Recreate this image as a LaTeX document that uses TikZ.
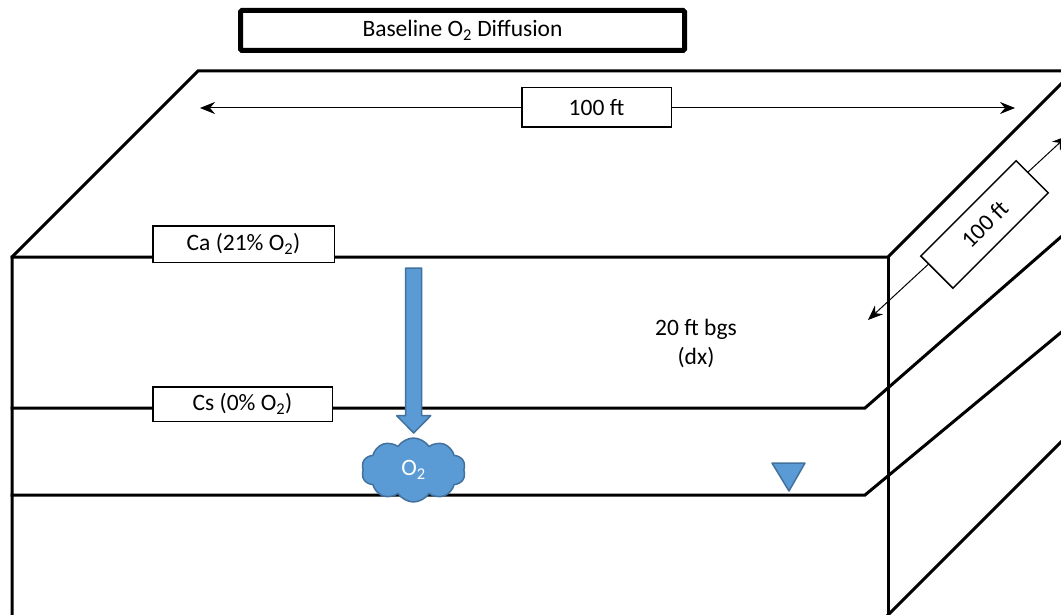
\documentclass[tikz,border=0pt]{standalone}
\usepackage{fontspec}
\setmainfont{Carlito}
\usetikzlibrary{arrows.meta,shapes.symbols}
\definecolor{fillblue}{HTML}{5B9BD5}
\definecolor{edgeblue}{HTML}{41719C}
\newcommand{\labelfont}{\fontsize{23.5}{29}\selectfont}
\begin{document}
\begin{tikzpicture}[x=1pt,y=-1pt,
  edge/.style={line width=3pt, line join=miter, line cap=rect},
  tagbox/.style={draw, line width=1.5pt, fill=white, inner sep=0pt, font=\labelfont},
  dimline/.style={line width=1pt, {Stealth[length=15pt,width=12pt,inset=5pt]}-{Stealth[length=15pt,width=12pt,inset=5pt]}},
  bluefill/.style={fill=fillblue, draw=edgeblue, line width=1.5pt, line join=round}
]
\useasboundingbox (0,0) rectangle (1061,615);
\begin{scope}
\clip (0,0) rectangle (1061,615);

% block outline
\coordinate (ftl) at (12,257);
\coordinate (ftr) at (888,257);
\coordinate (fbl) at (12,620);
\coordinate (fbr) at (888,615);
\coordinate (btl) at (198,71);
\coordinate (btr) at (1070,71);
\coordinate (rtop) at (1070,75);
\coordinate (rbot) at (1070,433);
\draw[edge] (fbl) -- (ftl) -- (btl) -- (btr);
\draw[edge] (ftl) -- (ftr) -- (rtop);
\draw[edge] (ftr) -- (888,620);
\draw[edge] (fbr) -- (rbot);

% soil layer boundaries
\coordinate (m1) at (12,408);
\coordinate (m2) at (865,408);
\coordinate (m3) at (1070,229);
\coordinate (w1) at (12,495);
\coordinate (w2) at (865,495);
\coordinate (w3) at (1070,325);
\draw[edge] (m1) -- (m2) -- (m3);
\draw[edge] (w1) -- (w2) -- (w3);

% horizontal dimension
\coordinate (hl) at (200,108);
\coordinate (hr) at (1015,108);
\draw[dimline] (hl) -- (hr);
\node[tagbox, minimum width=149.5pt, minimum height=39.5pt] (wlen) at (596.5,107.5) {100 ft};

% depth dimension
\coordinate (dl) at (868,320);
\coordinate (dr) at (1067,136);
\draw[dimline] (dl) -- (dr);
\node[tagbox, rotate=45, minimum width=134.8pt, minimum height=45.5pt] (dlen) at (984.5,224.5) {100 ft};

% concentration labels
\node[tagbox, minimum width=181.5pt, minimum height=36.5pt] (ca) at (243.5,244) {Ca (21\% O\textsubscript{2})};
\node[tagbox, minimum width=179.5pt, minimum height=34.5pt] (cs) at (242.5,404) {Cs (0\% O\textsubscript{2})};

\node[font=\labelfont, align=center, inner sep=0pt] (dx) at (696,343) {20 ft bgs\\(dx)};

% diffusion arrow
\filldraw[bluefill] (405.7,268) -- (421.7,268) -- (421.7,415.7) -- (430.7,415.7)
  -- (413.7,433) -- (396.7,415.7) -- (405.7,415.7) -- cycle;

% oxygen cloud
\node[cloud, cloud puffs=10, cloud puff arc=115, aspect=1.6, bluefill,
  minimum width=104pt, minimum height=64pt, inner sep=0pt,
  text=white, font=\labelfont] (o2) at (413.5,470) {O\textsubscript{2}};

% water table marker
\filldraw[bluefill] (772,463) -- (805,463) -- (789,491) -- cycle;
\end{scope}

% title
\node[draw, line width=5pt, rounded corners=1.5pt, fill=white,
  minimum width=444pt, minimum height=40pt, inner sep=0pt, font=\labelfont] (title)
  at (462.5,30.5) {Baseline O\textsubscript{2} Diffusion};
\end{tikzpicture}
\end{document}
